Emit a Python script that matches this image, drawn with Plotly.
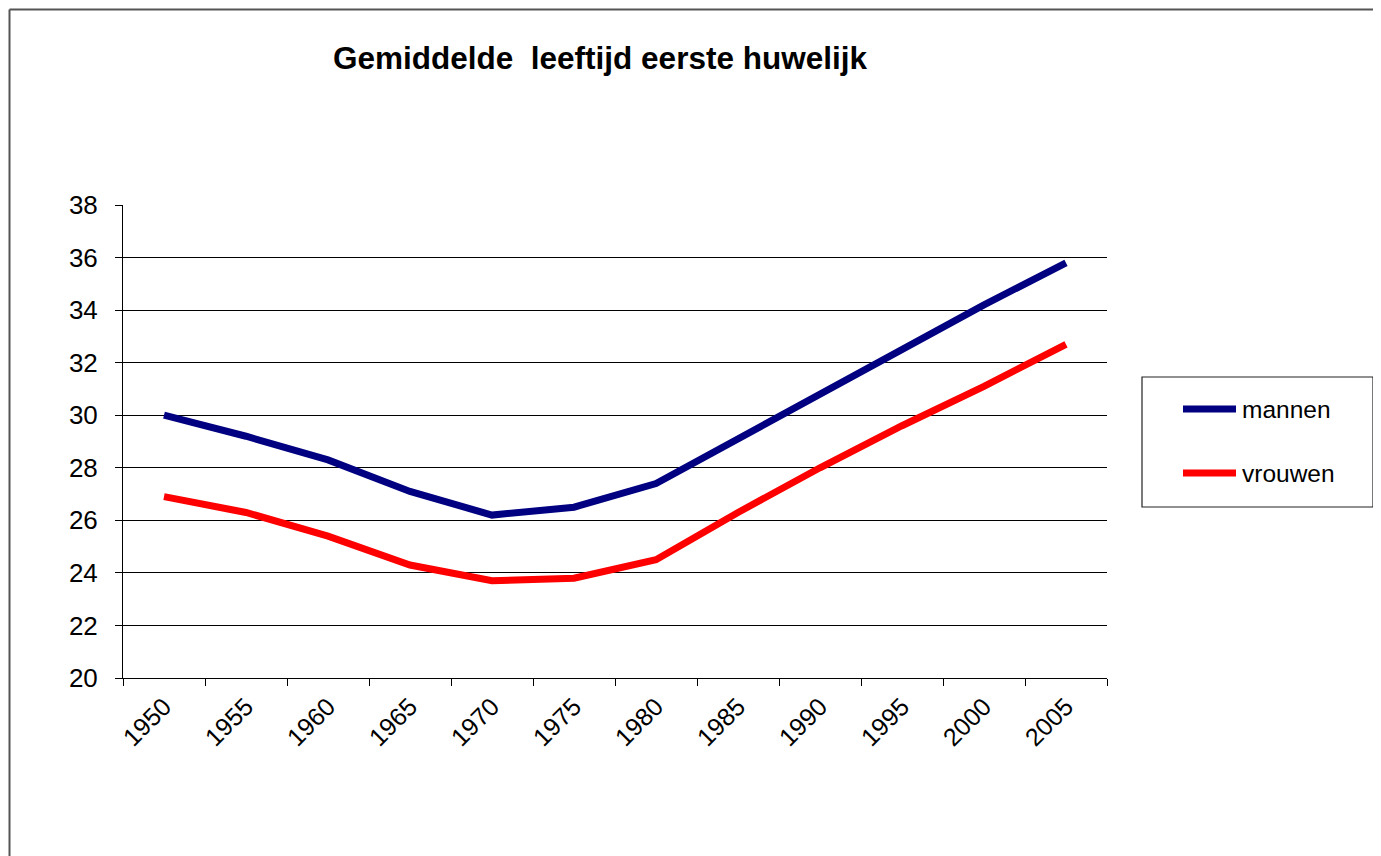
import plotly.graph_objects as go

# gemiddelde leeftijd bij eerste huwelijk
jaren = ["1950", "1955", "1960", "1965", "1970", "1975", "1980", "1985", "1990", "1995", "2000", "2005"]
mannen = [30.0, 29.2, 28.3, 27.1, 26.2, 26.5, 27.4, 29.1, 30.8, 32.5, 34.2, 35.8]
vrouwen = [26.9, 26.3, 25.4, 24.3, 23.7, 23.8, 24.5, 26.3, 28.0, 29.6, 31.1, 32.7]
y_ticks = [20, 22, 24, 26, 28, 30, 32, 34, 36, 38]
grid_ticks = [22, 24, 26, 28, 30, 32, 34, 36]

# pagina-coordinaten; de body-marge van de pagina is 8px
OFF = 8
W, H = 1381, 856
L, R, T, B = 123, 1107, 205, 678
FONT = "Liberation Sans, Arial, sans-serif"

kleur_m = "#000080"
kleur_v = "#FF0000"


def px_x(x):
    return (x - L) / (R - L)


def px_y(y):
    return (B - y) / (B - T)


fig = go.Figure()
fig.add_trace(go.Scatter(x=jaren, y=mannen, name="mannen", mode="lines",
                         line=dict(color=kleur_m, width=7), showlegend=False))
fig.add_trace(go.Scatter(x=jaren, y=vrouwen, name="vrouwen", mode="lines",
                         line=dict(color=kleur_v, width=7), showlegend=False))
# lege trace zodat de rasterlijnen-as getekend wordt
fig.add_trace(go.Scatter(x=[], y=[], yaxis="y2", showlegend=False, hoverinfo="skip"))

fig.update_layout(
    width=W - OFF, height=H - OFF,
    margin=dict(l=L - OFF, r=W - R, t=T - OFF, b=H - B),
    paper_bgcolor="white", plot_bgcolor="white",
    font=dict(family=FONT, color="black", size=25),
    title=dict(text="<b>Gemiddelde  leeftijd eerste huwelijk</b>",
               x=(600 - OFF) / (W - OFF), y=1 - (58 - OFF) / (H - OFF),
               xanchor="center", yanchor="middle",
               font=dict(size=31.5, family=FONT, color="black")),
    xaxis=dict(type="category", range=[-0.5, 11.5], tickson="boundaries",
               ticks="outside", ticklen=7, tickcolor="black",
               showline=True, linecolor="black", linewidth=1,
               showgrid=False, tickangle=-45, ticklabelstandoff=3,
               tickfont=dict(size=25)),
    yaxis=dict(range=[20, 38], tickvals=y_ticks, ticks="outside", ticklen=7,
               tickcolor="black", showline=True, linecolor="black", linewidth=1,
               showgrid=False, zeroline=False, ticklabelstandoff=12,
               tickfont=dict(size=26)),
    yaxis2=dict(range=[20, 38], overlaying="y", tickvals=grid_ticks,
                showgrid=True, gridcolor="black", gridwidth=1,
                showticklabels=False, ticks="", zeroline=False, showline=False),
)

# rand van de grafiek (net binnen de figuur)
rand = dict(color="#555555", width=2)
fig.add_shape(type="line", xref="paper", yref="paper",
              x0=px_x(9.5), x1=px_x(W + 5), y0=px_y(9.5), y1=px_y(9.5), line=rand)
fig.add_shape(type="line", xref="paper", yref="paper",
              x0=px_x(9.5), x1=px_x(9.5), y0=px_y(9.5), y1=px_y(H + 5), line=rand)

# legenda
fig.add_shape(type="rect", xref="paper", yref="paper",
              x0=px_x(1142), x1=px_x(1373), y0=px_y(377), y1=px_y(507),
              line=dict(color="#222222", width=1.2), fillcolor="white")
for naam, kleur, ypos in [("mannen", kleur_m, 409), ("vrouwen", kleur_v, 473)]:
    fig.add_shape(type="line", xref="paper", yref="paper",
                  x0=px_x(1183), x1=px_x(1236), y0=px_y(ypos), y1=px_y(ypos),
                  line=dict(color=kleur, width=7))
    fig.add_annotation(text=naam, xref="paper", yref="paper",
                       x=px_x(1240), y=px_y(ypos), xanchor="left", yanchor="middle",
                       showarrow=False, font=dict(size=24.5, family=FONT, color="black"))

fig.write_html("out.html")
